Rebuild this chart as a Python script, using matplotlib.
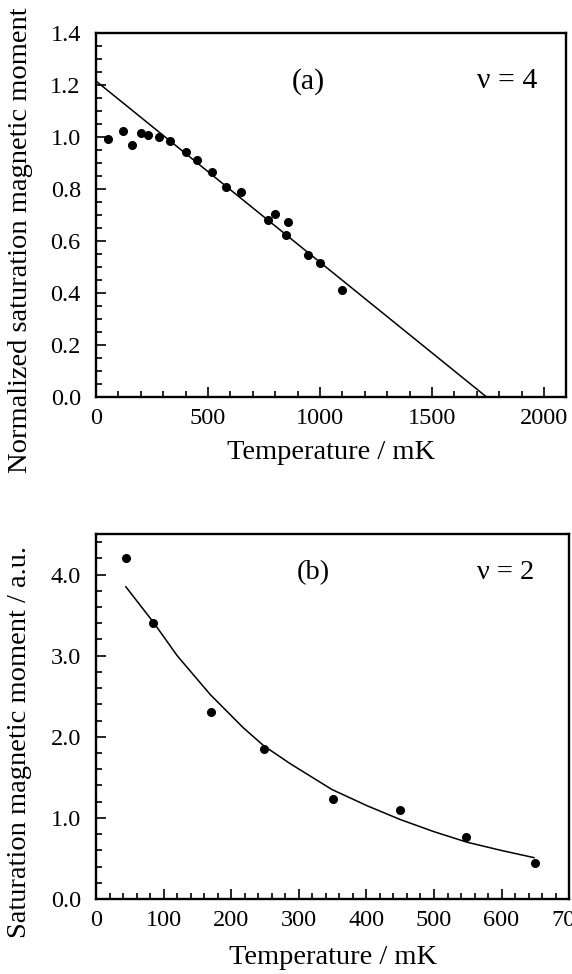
import matplotlib
matplotlib.use("Agg")
import matplotlib.pyplot as plt
from matplotlib.ticker import MultipleLocator, FormatStrFormatter

plt.rcParams['font.family'] = ['Liberation Serif', 'DejaVu Serif']

# panel (a): nu = 4
temp_a = [55, 121, 159, 199, 230, 280, 329, 400, 449, 518, 578, 649,
          769, 799, 849, 859, 948, 999, 1099]
moment_a = [0.993, 1.025, 0.969, 1.016, 1.008, 1.000, 0.983, 0.944, 0.912,
            0.866, 0.807, 0.790, 0.679, 0.703, 0.625, 0.674, 0.545, 0.514, 0.412]
fit_a_x = [0, 1744]
fit_a_y = [1.215, 0.0]

# panel (b): nu = 2
temp_b = [44, 84, 170, 249, 350, 450, 548, 649]
moment_b = [4.21, 3.40, 2.30, 1.85, 1.23, 1.10, 0.77, 0.45]
fit_b_x = [44, 85, 120, 169, 218, 248, 287, 349, 401, 450, 500, 549, 599, 648]
fit_b_y = [3.85, 3.41, 3.00, 2.52, 2.11, 1.89, 1.67, 1.35, 1.15, 0.98,
           0.83, 0.70, 0.60, 0.51]


def style_axes(ax):
    for s in ax.spines.values():
        s.set_linewidth(1.7)
    ax.tick_params(which='both', direction='in', top=False, right=False,
                   labelsize=17.5, width=1.2)
    ax.tick_params(axis='y', which='both', pad=11)
    ax.tick_params(axis='x', which='both', pad=8)
    ax.tick_params(which='major', length=7)
    ax.tick_params(which='minor', length=4)


fig = plt.figure(figsize=(5.72, 9.74), dpi=100)

ax1 = fig.add_axes([0.168, 0.5924, 0.822, 0.3737])
ax1.plot(fit_a_x, fit_a_y, color='black', lw=1.1)
ax1.plot(temp_a, moment_a, 'o', color='black', ms=5.5)
ax1.set_xlim(0, 2100)
ax1.set_ylim(0, 1.4)
ax1.xaxis.set_major_locator(MultipleLocator(500))
ax1.xaxis.set_minor_locator(MultipleLocator(100))
ax1.yaxis.set_major_locator(MultipleLocator(0.2))
ax1.yaxis.set_minor_locator(MultipleLocator(0.05))
ax1.yaxis.set_major_formatter(FormatStrFormatter('%.1f'))
style_axes(ax1)
ax1.set_xlabel('Temperature / mK', fontsize=20.5, labelpad=8)
ax1.set_ylabel('Normalized saturation magnetic moment', fontsize=20.5)
ax1.yaxis.set_label_coords(-0.135, 0.43)
ax1.text(947, 1.215, '(a)', fontsize=21.5, ha='center', va='center')
ax1.text(1835, 1.215, 'ν = 4', fontsize=21.5, ha='center', va='center')

ax2 = fig.add_axes([0.168, 0.077, 0.827, 0.3747])
ax2.plot(fit_b_x, fit_b_y, color='black', lw=1.1)
ax2.plot(temp_b, moment_b, 'o', color='black', ms=5.5)
ax2.set_xlim(0, 700)
ax2.set_ylim(0, 4.5)
ax2.xaxis.set_major_locator(MultipleLocator(100))
ax2.xaxis.set_minor_locator(MultipleLocator(20))
ax2.yaxis.set_major_locator(MultipleLocator(1.0))
ax2.yaxis.set_minor_locator(MultipleLocator(0.2))
ax2.yaxis.set_major_formatter(FormatStrFormatter('%.1f'))
style_axes(ax2)
ax2.set_xlabel('Temperature / mK', fontsize=20.5, labelpad=10)
ax2.set_ylabel('Saturation magnetic moment / a.u.', fontsize=20.5)
ax2.yaxis.set_label_coords(-0.135, 0.43)
ax2.text(321, 4.03, '(b)', fontsize=20.5, ha='center', va='center')
ax2.text(606, 4.03, 'ν = 2', fontsize=20.5, ha='center', va='center')

fig.savefig('out.png', dpi=100)
